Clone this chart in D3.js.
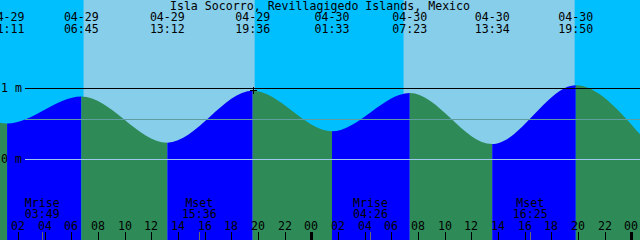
<!DOCTYPE html>
<html>

<head>
  <title>Tide graph</title>
  <style>
    body,
    html {
      margin: 0;
      padding: 0;
      background: #fff;
    }

    #svg {
      display: block;
    }

    text {
      font-family: "DejaVu Sans Mono", monospace;
      font-size: 11.6px;
      fill: #000;
    }
  </style>
</head>

<body>

  <svg id="svg" width="640" height="240"></svg>

  <script src="https://d3js.org/d3.v7.min.js"></script>
  <script>
    const title = "Isla Socorro, Revillagigedo Islands, Mexico"
    const timeSpan = ["04-29 00:39", "05-01 00:39"]

    // tide: heights at the window edges plus every high and low (m)
    const tideTimes = ["04-29 00:39", "04-29 01:11", "04-29 06:45", "04-29 13:12", "04-29 19:36",
      "04-30 01:33", "04-30 07:23", "04-30 13:34", "04-30 19:50", "05-01 00:39"]
    const tideHeights = [0.51, 0.50, 0.88, 0.23, 0.96, 0.39, 0.93, 0.21, 1.04, 0.35]

    const sunrises = ["04-29 06:55", "04-30 06:55"]
    const sunsets = ["04-29 19:45", "04-30 19:45"]

    const moonTimes = ["04-29 03:49", "04-29 15:36", "04-30 04:26", "04-30 16:25"]
    const moonEvents = ["Mrise", "Mset", "Mrise", "Mset"]

    const levelLabels = [1, 0]
    const meanLevel = 0.55
    const markTime = "04-29 19:36"

    const width = 640
    const height = 240
    const lineStart = 25

    const parse = d3.utcParse("%m-%d %H:%M")
    const fmtDate = d3.utcFormat("%m-%d")
    const fmtTime = d3.utcFormat("%H:%M")

    const xScale = d3.scaleUtc()
      .domain(timeSpan.map(parse))
      .range([0, width])

    const yScale = d3.scaleLinear()
      .domain([0, 1])
      .range([159, 88])

    const tide = tideTimes.map((t, i) => ({ t: parse(t), h: tideHeights[i] }))

    const svg = d3.select("#svg")

    // sky: night everywhere, day bands on top
    svg.append("rect")
      .attr("width", width)
      .attr("height", height)
      .attr("fill", "#00bfff")

    svg.append("g")
      .selectAll("rect")
      .data(sunrises)
      .enter()
      .append("rect")
      .attr("x", d => xScale(parse(d)))
      .attr("width", (d, i) => xScale(parse(sunsets[i])) - xScale(parse(d)))
      .attr("height", height)
      .attr("fill", "#87ceeb")

    // water under the curve, blue while rising, green while falling
    const areaGen = d3.area()
      .x(d => xScale(d.t))
      .y0(height)
      .y1(d => yScale(d.h))
      .curve(d3.curveMonotoneX)

    svg.append("clipPath")
      .attr("id", "water")
      .append("path")
      .attr("d", areaGen(tide))

    svg.append("g")
      .attr("clip-path", "url(#water)")
      .selectAll("rect")
      .data(tide.slice(0, -1))
      .enter()
      .append("rect")
      .attr("x", d => xScale(d.t))
      .attr("width", (d, i) => xScale(tide[i + 1].t) - xScale(d.t))
      .attr("height", height)
      .attr("fill", (d, i) => tide[i + 1].h > d.h ? "#0000ff" : "#2e8b57")

    // level lines
    const lines = svg.append("g").attr("shape-rendering", "crispEdges")
    lines.append("line")
      .attr("x1", lineStart).attr("x2", width)
      .attr("y1", yScale(meanLevel)).attr("y2", yScale(meanLevel))
      .attr("stroke", "#5f9ea0")
    lines.append("line")
      .attr("x1", lineStart).attr("x2", width)
      .attr("y1", yScale(0)).attr("y2", yScale(0))
      .attr("stroke", "#9cc8f0")
    lines.append("line")
      .attr("x1", lineStart).attr("x2", width)
      .attr("y1", yScale(1)).attr("y2", yScale(1))
      .attr("stroke", "#000")

    svg.append("g")
      .selectAll("text")
      .data(levelLabels)
      .enter()
      .append("text")
      .attr("x", 1)
      .attr("y", d => yScale(d) + 4)
      .text(d => d + " m")

    // mark at the evening high
    const mark = tide.find(d => +d.t === +parse(markTime))
    svg.append("path")
      .attr("d", `M${xScale(mark.t) - 3},${yScale(mark.h)}h7M${xScale(mark.t) + 0.5},${yScale(mark.h) - 3.5}v7`)
      .attr("stroke", "#000")
      .attr("shape-rendering", "crispEdges")

    // title and high/low labels
    svg.append("text")
      .attr("x", width / 2)
      .attr("y", 10)
      .attr("text-anchor", "middle")
      .text(title)

    const extremes = svg.append("g")
      .selectAll("g")
      .data(tide.slice(1, -1))
      .enter()
      .append("g")
      .attr("transform", d => `translate(${xScale(d.t)}, 0)`)
    extremes.append("text")
      .attr("y", 21)
      .attr("text-anchor", "middle")
      .text(d => fmtDate(d.t))
    extremes.append("text")
      .attr("y", 33)
      .attr("text-anchor", "middle")
      .text(d => fmtTime(d.t))

    // moon rise/set
    const moon = svg.append("g")
      .selectAll("g")
      .data(moonTimes)
      .enter()
      .append("g")
      .attr("transform", d => `translate(${xScale(parse(d))}, 0)`)
    moon.append("text")
      .attr("y", 207)
      .attr("text-anchor", "middle")
      .text((d, i) => moonEvents[i])
    moon.append("text")
      .attr("y", 218)
      .attr("text-anchor", "middle")
      .text(d => fmtTime(parse(d)))
    moon.append("line")
      .attr("x1", 0.5).attr("x2", 0.5)
      .attr("y1", 232).attr("y2", height)
      .attr("stroke", "#6a6a6a")
      .attr("shape-rendering", "crispEdges")

    // hour ticks
    const hours = d3.utcHour.every(2).range(...xScale.domain())
    const ticks = svg.append("g")
      .selectAll("g")
      .data(hours)
      .enter()
      .append("g")
      .attr("transform", d => `translate(${Math.round(xScale(d))}, 0)`)
    ticks.append("text")
      .attr("y", 230)
      .attr("text-anchor", "middle")
      .text(d => d3.utcFormat("%H")(d))
    ticks.append("line")
      .attr("x1", 0.5).attr("x2", 0.5)
      .attr("y1", 232).attr("y2", height)
      .attr("stroke", "#000")
      .attr("stroke-width", d => d.getUTCHours() === 0 ? 3 : 1)
      .attr("shape-rendering", "crispEdges")

  </script>
</body>

</html>
